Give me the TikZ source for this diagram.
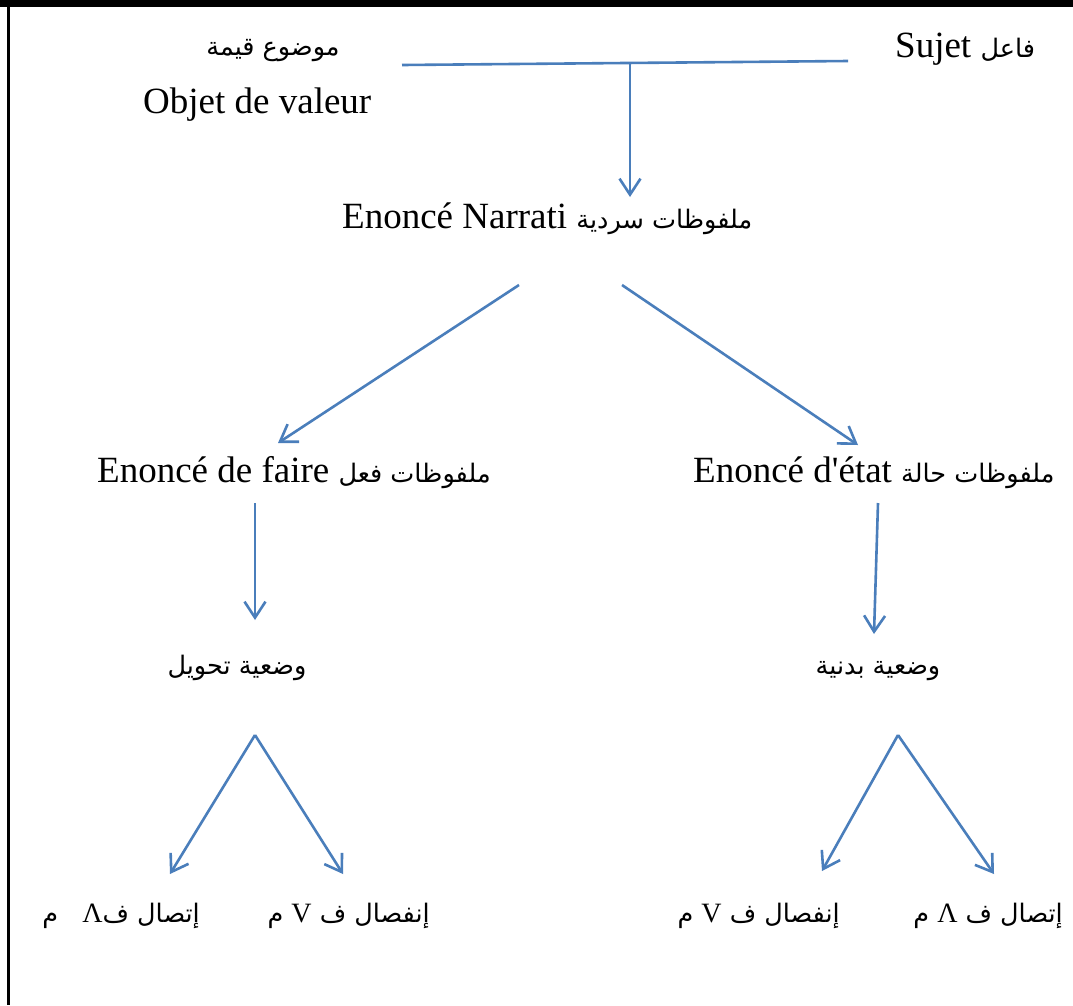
\documentclass[tikz,border=0pt]{standalone}
\usepackage{fontspec}
\setmainfont{Liberation Serif}
\newfontfamily\nomapfont{Liberation Serif}
\newfontfamily\arfont[Script=Arabic]{DejaVu Sans}
\TeXXeTstate=1
\usetikzlibrary{arrows.meta}
\definecolor{lnblue}{RGB}{74,126,187}
\newcommand{\AR}[1]{{\arfont\fontsize{25.5}{30}\selectfont\beginR #1\endR}}
\newcommand{\LT}[1]{{\rmfamily\fontsize{28}{34}\selectfont #1}}
\begin{document}
\begin{tikzpicture}[x=1pt,y=-1pt,
  lat/.style={inner sep=0pt, font=\fontsize{37}{44}\selectfont},
  conn/.style={draw=lnblue, line width=2.6pt, -{Straight Barb[length=16pt,width=21pt]}},
  plainln/.style={draw=lnblue, line width=2.6pt}]
\useasboundingbox (0,0) rectangle (1073,1005);
\fill[white] (0,0) rectangle (1073,1005);
\fill[black] (0,0) rectangle (1073,6.5);
\draw[black, line width=2.5pt] (8.5,0) -- (8.5,1005);

% texts
\node[lat, anchor=base] (mawdu) at (273,55) {\AR{موضوع قيمة}};
\node[lat, anchor=base west] (objet) at (143,113) {Objet de valeur};
\node[lat, anchor=base west] (sujet) at (895,57) {Sujet \AR{فاعل}};
\node[lat, anchor=base west] (narr) at (342,228) {Enoncé Narrati \AR{ملفوظات سردية}};
\node[lat, anchor=base west] (faire) at (97,482) {Enoncé de faire \AR{ملفوظات فعل}};
\node[lat, anchor=base west] (etat) at (693,482) {Enoncé d{\nomapfont '}état \AR{ملفوظات حالة}};
\node[lat, anchor=base] (tahwil) at (237,674) {\AR{وضعية تحويل}};
\node[lat, anchor=base] (badan) at (878,674) {\AR{وضعية بدنية}};
\node[lat, anchor=base east] (bl1) at (200,922) {\AR{إتصال ف\LT{Λ}\ \ \ م}};
\node[lat, anchor=base east] (bl2) at (430,922) {\AR{إنفصال ف \LT{V} م}};
\node[lat, anchor=base east] (br1) at (840,922) {\AR{إنفصال ف \LT{V} م}};
\node[lat, anchor=base east] (br2) at (1063,922) {\AR{إتصال ف \LT{Λ} م}};

% connector end points
\coordinate (hl) at (402,65);
\coordinate (hr) at (848,61);
\coordinate (t1) at (630,63);
\coordinate (t2) at (630,197);
\coordinate (n1) at (519,285);
\coordinate (n2) at (278,443);
\coordinate (n3) at (622,285);
\coordinate (n4) at (858,445);
\coordinate (f1) at (255,503);
\coordinate (f2) at (255,620);
\coordinate (e1) at (878,503);
\coordinate (e2) at (874,634);
\coordinate (a1) at (255,735);
\coordinate (a2) at (170,874);
\coordinate (a3) at (343,874);
\coordinate (b1) at (898,735);
\coordinate (b2) at (822,871);
\coordinate (b3) at (994,874);

\draw[plainln] (hl) -- (hr);
\draw[conn] (t1) -- (t2);
\draw[conn] (n1) -- (n2);
\draw[conn] (n3) -- (n4);
\draw[conn] (f1) -- (f2);
\draw[conn] (e1) -- (e2);
\draw[conn] (a1) -- (a2);
\draw[conn] (a1) -- (a3);
\draw[conn] (b1) -- (b2);
\draw[conn] (b1) -- (b3);
\end{tikzpicture}
\end{document}
